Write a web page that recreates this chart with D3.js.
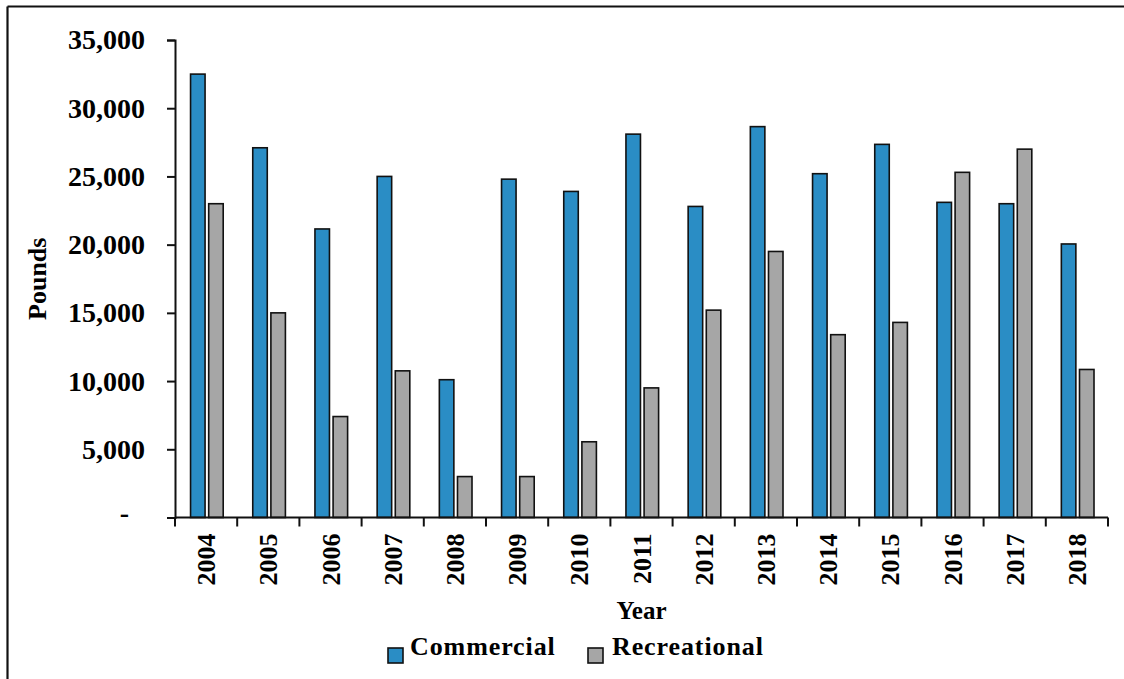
<!DOCTYPE html>
<html>
<head>
<meta charset="utf-8">
<script src="https://cdn.jsdelivr.net/npm/d3@7"></script>
<style>
  body { margin: 0; background: #fff; }
  text { font-family: "Liberation Serif", "Times New Roman", serif; font-weight: bold; fill: #000; }
</style>
</head>
<body>
<div id="chart"></div>
<script>
// Data
//
var years = ["2004", "2005", "2006", "2007", "2008", "2009", "2010", "2011",
             "2012", "2013", "2014", "2015", "2016", "2017", "2018"];
var commercial = [32500, 27100, 21150, 25000, 10100, 24800, 23900, 28100,
                  22800, 28650, 25200, 27350, 23100, 23000, 20050];
var recreational = [23000, 15000, 7400, 10750, 3000, 3000, 5550, 9500,
                    15200, 19500, 13400, 14300, 25300, 27000, 10850];
var seriesNames = ["Commercial", "Recreational"];
var seriesColors = ["#2A8DC5", "#A6A6A6"];
var yTicks = [0, 5000, 10000, 15000, 20000, 25000, 30000, 35000];

var width = 1124, height = 679;
var margin = { top: 40, right: 16, bottom: 162, left: 175 };
var plotW = 933, plotH = 477.5;

var svg = d3.select("#chart").append("svg")
  .attr("width", width)
  .attr("height", height);

// Outer frame (only top and left edges show in the picture)
//
svg.append("line").attr("x1", 7.5).attr("x2", width).attr("y1", 6.5).attr("y2", 6.5)
  .attr("stroke", "#111").attr("stroke-width", 2.2);
svg.append("line").attr("x1", 7.5).attr("x2", 7.5).attr("y1", 6.5).attr("y2", height)
  .attr("stroke", "#111").attr("stroke-width", 2.2);

var g = svg.append("g").attr("transform", `translate(${margin.left},${margin.top})`);

// Scales
//
var x = d3.scaleBand().domain(years).range([0, plotW]).padding(0);
var inner = d3.scaleBand().domain(seriesNames)
  .range([x.bandwidth() * 0.25, x.bandwidth() * 0.775]).paddingInner(0.2);
var y = d3.scaleLinear().domain([0, 35000]).range([plotH, 0]);

// Bars
//
var rows = years.map((yr, i) => ({ year: yr, values: [commercial[i], recreational[i]] }));

var groups = g.selectAll(".yr").data(rows).enter().append("g")
  .attr("class", "yr")
  .attr("transform", d => `translate(${x(d.year)},0)`);

groups.selectAll("rect")
  .data(d => d.values.map((v, k) => ({ name: seriesNames[k], value: v, k: k })))
  .enter().append("rect")
  .attr("x", d => inner(d.name))
  .attr("y", d => y(d.value))
  .attr("width", inner.bandwidth())
  .attr("height", d => plotH - y(d.value))
  .attr("fill", d => seriesColors[d.k])
  .attr("stroke", "#111")
  .attr("stroke-width", 1.6);

// Y axis
//
var fmt = d3.format(",");
var yAxis = g.append("g")
  .call(d3.axisLeft(y).tickValues(yTicks).tickSize(8).tickPadding(22)
    .tickFormat(d => d === 0 ? "-" : fmt(d)));
yAxis.select(".domain").attr("stroke", "#111").attr("stroke-width", 2);
yAxis.selectAll(".tick line").attr("stroke", "#111").attr("stroke-width", 2);
yAxis.selectAll(".tick text")
  .style("font-size", "28px")
  .attr("dx", d => d === 0 ? "-16px" : 0);
yAxis.selectAll(".tick text").filter(d => d === 0).attr("dy", "0.15em");

// X axis: line, boundary ticks and rotated year labels
//
var xAxis = g.append("g").attr("transform", `translate(0,${plotH})`);
xAxis.append("line").attr("x1", 0).attr("x2", plotW)
  .attr("stroke", "#111").attr("stroke-width", 2);
var edges = years.map(yr => x(yr)).concat([x(years[years.length - 1]) + x.bandwidth()]);
xAxis.selectAll(".edge").data(edges).enter().append("line")
  .attr("class", "edge")
  .attr("x1", d => d).attr("x2", d => d)
  .attr("y1", 0).attr("y2", 9)
  .attr("stroke", "#111").attr("stroke-width", 2);
xAxis.selectAll(".lbl").data(years).enter().append("text")
  .attr("class", "lbl")
  .attr("transform", d => `translate(${x(d) + x.bandwidth() / 2},16) rotate(-90)`)
  .attr("text-anchor", "end")
  .attr("dy", "0.35em")
  .style("font-size", "26px")
  .text(d => d);

// Axis titles
//
svg.append("text")
  .attr("x", margin.left + plotW / 2)
  .attr("y", 619)
  .attr("text-anchor", "middle")
  .style("font-size", "25px")
  .text("Year");

svg.append("text")
  .attr("transform", `translate(46,${margin.top + plotH / 2}) rotate(-90)`)
  .attr("text-anchor", "middle")
  .style("font-size", "26px")
  .text("Pounds");

// Legend
//
var legendX = [388, 588];
var legend = svg.selectAll(".leg").data(seriesNames).enter().append("g")
  .attr("class", "leg")
  .attr("transform", (d, i) => `translate(${legendX[i]},648)`);
legend.append("rect")
  .attr("width", 15).attr("height", 15)
  .attr("fill", (d, i) => seriesColors[i])
  .attr("stroke", "#111").attr("stroke-width", 1.6);
legend.append("text")
  .attr("x", (d, i) => i === 0 ? 22 : 24)
  .attr("y", 7)
  .style("font-size", "26px")
  .style("letter-spacing", "0.9px")
  .text(d => d);
</script>
</body>
</html>
